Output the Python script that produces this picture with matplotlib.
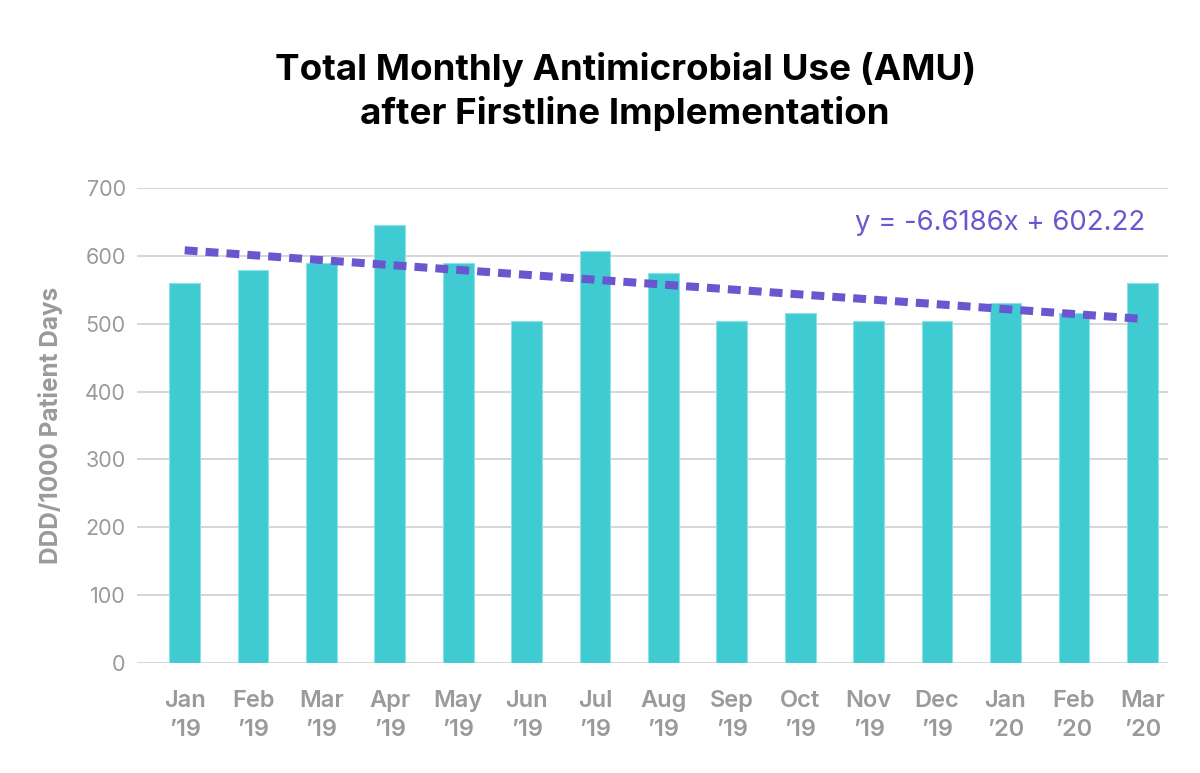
import matplotlib.pyplot as plt
import numpy as np

# monthly antimicrobial use
months = ["Jan\n\u201919", "Feb\n\u201919", "Mar\n\u201919", "Apr\n\u201919", "May\n\u201919",
          "Jun\n\u201919", "Jul\n\u201919", "Aug\n\u201919", "Sep\n\u201919", "Oct\n\u201919",
          "Nov\n\u201919", "Dec\n\u201919", "Jan\n\u201920", "Feb\n\u201920", "Mar\n\u201920"]
amu = [560, 579, 589, 645, 589, 504, 607, 575, 504, 516, 504, 504, 530, 516, 560]

# trend line endpoints as drawn (first and last month)
trend_ends = [608, 507]
trend_label = "y = -6.6186x + 602.22"

yticks = [0, 100, 200, 300, 400, 500, 600, 700]

BAR = "#40CAD2"
TREND = "#6A56CF"
GREY = "#9A9A9A"

plt.rcParams["font.family"] = ["Inter", "DejaVu Sans"]

fig = plt.figure(figsize=(12, 7.73), dpi=100)
ax = fig.add_axes([0.114, 0.142, 0.859, 0.615])

x = np.arange(len(months))
ax.bar(x, amu, width=0.45, color=BAR, edgecolor="#8FE0E5", linewidth=0.8, zorder=2)

# dashed linear trend
ax.plot([x[0], x[-1]], trend_ends, color=TREND, linewidth=5.8, linestyle=(0, (1.6, 1.0)),
        solid_capstyle="butt", dash_capstyle="butt", zorder=3)
ax.text(14.05, 648, trend_label, color=TREND, fontsize=19.8, ha="right", va="center")

ax.set_xlim(-0.7, 14.37)
ax.set_ylim(0, 700)
ax.set_yticks(yticks)
ax.set_xticks(x)
ax.set_xticklabels(months, fontsize=17, fontweight="semibold", color=GREY, linespacing=1.45)
for lab in ax.get_yticklabels():
    lab.set_fontsize(15.5)
    lab.set_color(GREY)
ax.tick_params(axis="both", length=0, pad=8)
ax.tick_params(axis="x", pad=19)
ax.grid(axis="y", color="#D0D0D0", linewidth=1.2, zorder=0)
ax.set_axisbelow(True)
for s in ax.spines.values():
    s.set_visible(False)

ax.set_ylabel("DDD/1000 Patient Days", fontsize=17.5, fontweight="bold", color=GREY, labelpad=16)

fig.text(0.521, 0.882, "Total Monthly Antimicrobial Use (AMU)\nafter Firstline Implementation",
         ha="center", va="center", fontsize=26.5, fontweight="bold", color="black",
         linespacing=1.33)

fig.savefig("out.png", dpi=100, facecolor="white")
